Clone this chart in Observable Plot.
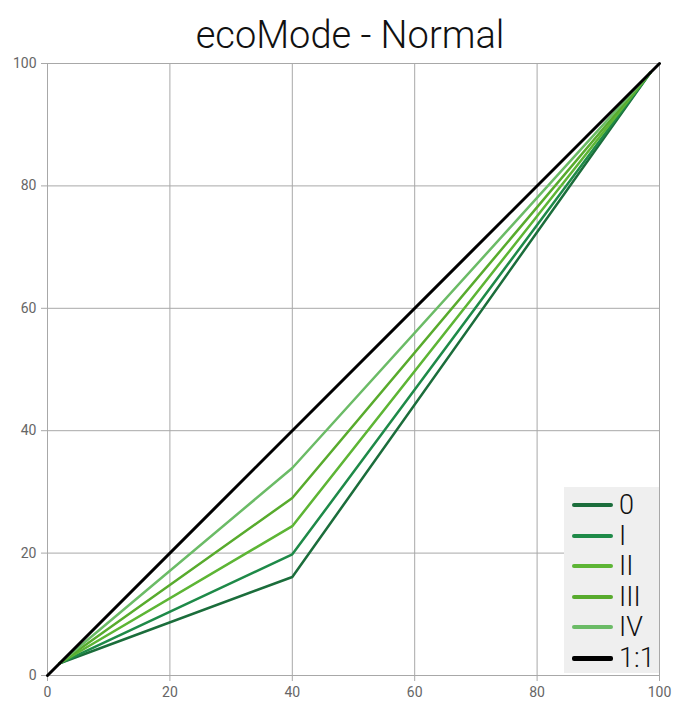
<!DOCTYPE html>
<html>
<head>
<meta charset="utf-8">
<script src="https://cdn.jsdelivr.net/npm/d3@7"></script>
<script src="https://cdn.jsdelivr.net/npm/@observablehq/plot@0.6"></script>
<style>
  html, body { margin: 0; padding: 0; background: #fff; }
  #wrap { position: relative; width: 700px; height: 714px; font-family: Roboto, sans-serif; overflow: hidden; }
  #title { position: absolute; left: 0; top: 0; width: 700px; text-align: center; font-family: Roboto, sans-serif; font-weight: 300; font-size: 38px; line-height: 70px; color: #111; z-index: 2; }
  #plot { position: absolute; left: 0; top: 40px; }
  #plot svg { overflow: visible; }
  #plot svg text { font-size: 14px !important; font-family: Roboto, sans-serif !important; fill: #666 !important; }
  #legend { position: absolute; left: 564px; top: 487px; width: 95px; height: 186px; background: #efefef; }
  .row { position: absolute; left: 0; height: 30px; display: flex; align-items: center; }
  .sw { width: 41px; height: 4px; border-radius: 2px; margin-left: 8px; margin-right: 6px; }
  .lb { font-family: Roboto, sans-serif; font-weight: 300; font-size: 27px; color: #111; line-height: 30px; }
</style>
</head>
<body>
<div id="wrap">
  <div id="title">ecoMode - Normal</div>
  <div id="plot"></div>
  <div id="legend"></div>
</div>
<script>
const seriesNames = ["0", "I", "II", "III", "IV", "1:1"];
const seriesColors = ["#1b6d3b", "#1e8a48", "#5db535", "#58ab2d", "#6bbb66", "#000000"];
const seriesWidths = [2.5, 2.5, 2.5, 2.5, 2.5, 3];
const xPoints = [2, 40, 98.5];
const y0 = [2, 16.1, 98.5];
const yI = [2, 19.8, 98.5];
const yII = [2, 24.4, 98.5];
const yIII = [2, 29.0, 98.5];
const yIV = [2, 33.9, 98.5];
const xRef = [0, 100];
const yRef = [0, 100];
const ticks = [0, 20, 40, 60, 80, 100];

const greenSeries = [y0, yI, yII, yIII, yIV];
const data = [];
greenSeries.forEach((ys, i) => {
  ys.forEach((y, j) => data.push({series: seriesNames[i], x: xPoints[j], y}));
});
const refData = xRef.map((x, j) => ({series: "1:1", x, y: yRef[j]}));

const plot = Plot.plot({
  width: 700,
  height: 674,
  marginLeft: 47,
  marginRight: 41,
  marginTop: 23,
  marginBottom: 39,
  style: {fontFamily: "Roboto, sans-serif", fontSize: "14px", color: "#666", background: "transparent"},
  x: {domain: [0, 100], ticks, label: null},
  y: {domain: [0, 100], ticks, label: null},
  marks: [
    Plot.gridX(ticks, {stroke: "#a8a8a8", strokeOpacity: 1, strokeWidth: 1}),
    Plot.gridY(ticks, {stroke: "#a8a8a8", strokeOpacity: 1, strokeWidth: 1}),
    Plot.axisX(ticks, {tickSize: 6, tickPadding: 6, stroke: "#a8a8a8", fill: "#666", fontSize: 14}),
    Plot.axisY(ticks, {tickSize: 6, tickPadding: 5, stroke: "#a8a8a8", fill: "#666", fontSize: 14}),
    ...greenSeries.map((ys, i) => Plot.line(data.filter(d => d.series === seriesNames[i]), {
      x: "x", y: "y", stroke: seriesColors[i], strokeWidth: seriesWidths[i], strokeLinejoin: "miter"
    })),
    Plot.line(refData, {x: "x", y: "y", stroke: seriesColors[5], strokeWidth: seriesWidths[5]})
  ]
});
document.getElementById("plot").appendChild(plot);

const legend = document.getElementById("legend");
seriesNames.forEach((name, i) => {
  const row = document.createElement("div");
  row.className = "row";
  row.style.top = (3 + i * 30.6) + "px";
  const sw = document.createElement("div");
  sw.className = "sw";
  sw.style.background = seriesColors[i];
  sw.style.height = (i === 5 ? 5 : 4) + "px";
  const lb = document.createElement("span");
  lb.className = "lb";
  lb.textContent = name;
  row.appendChild(sw);
  row.appendChild(lb);
  legend.appendChild(row);
});
</script>
</body>
</html>
